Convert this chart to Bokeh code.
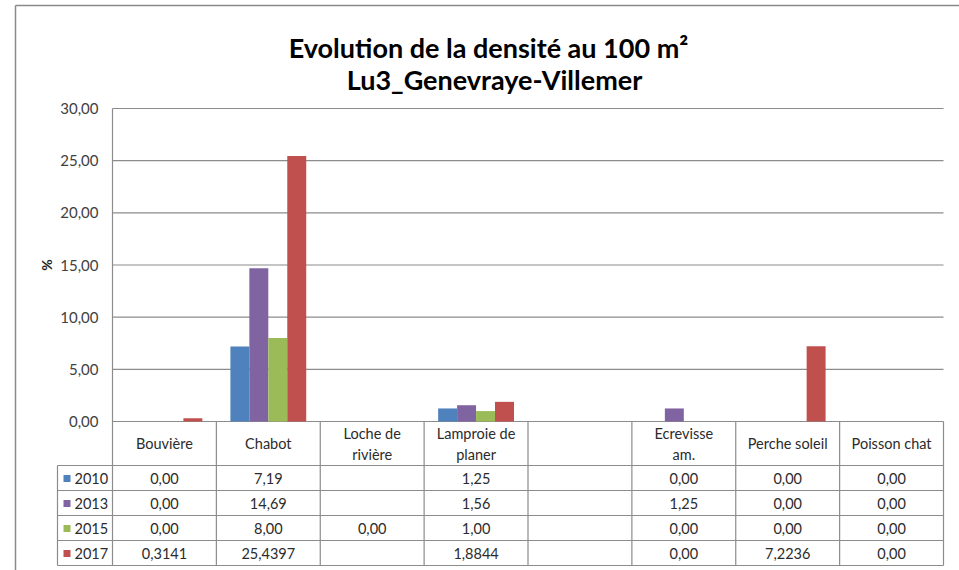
import numpy as np
from bokeh.plotting import figure
from bokeh.models import Range1d
from bokeh.core.properties import value
from bokeh.embed import file_html
from bokeh.resources import INLINE

# ---------------- data ----------------
categories = ["Bouvière", "Chabot", "Loche de rivière", "Lamproie de planer", "",
              "Ecrevisse am.", "Perche soleil", "Poisson chat"]
header_lines = [["Bouvière"], ["Chabot"], ["Loche de", "rivière"], ["Lamproie de", "planer"],
                [], ["Ecrevisse", "am."], ["Perche soleil"], ["Poisson chat"]]
years = ["2010", "2013", "2015", "2017"]
NA = None
d2010 = [0.00, 7.19, NA, 1.25, NA, 0.00, 0.00, 0.00]
d2013 = [0.00, 14.69, NA, 1.56, NA, 1.25, 0.00, 0.00]
d2015 = [0.00, 8.00, 0.00, 1.00, NA, 0.00, 0.00, 0.00]
d2017 = [0.3141, 25.4397, NA, 1.8844, NA, 0.00, 7.2236, 0.00]
series = [d2010, d2013, d2015, d2017]
colors = ["#4F81BD", "#8064A2", "#9BBB59", "#C0504D"]
y_ticks = [0, 5, 10, 15, 20, 25, 30]
y_tick_labels = ["0,00", "5,00", "10,00", "15,00", "20,00", "25,00", "30,00"]
title1 = "Evolution de la densité au 100 m²"
title2 = "Lu3_Genevraye-Villemer"
y_label = "%"

# ---------------- layout (reference pixel geometry) ----------------
W, H = 959, 570
OFF = 0
PL, PR, PT, PB = 112, 943, 108, 421
NC = len(categories)
YMAX = 30
UX = (PR - PL) / NC
UY = (PB - PT) / YMAX


def X(rx):
    return (rx - PL) / UX


def Y(ry):
    return (PB - ry) / UY


FONT = value("Lato")
GRID = "#8c8c8c"
TXT = "#2b2b2b"

p = figure(width=W, height=H, output_backend="svg", toolbar_location=None,
           x_range=Range1d(X(OFF), X(OFF + W)), y_range=Range1d(Y(OFF + H), Y(OFF)),
           min_border=0, outline_line_color=None, background_fill_color="white",
           border_fill_color="white")
p.xaxis.visible = False
p.yaxis.visible = False
p.grid.visible = False

# outer chart border (top + left)
p.segment(x0=[X(15)], y0=[Y(5)], x1=[X(OFF + W)], y1=[Y(5)], line_color="#8a8a8a", line_width=1.5)
p.segment(x0=[X(15)], y0=[Y(5)], x1=[X(15)], y1=[Y(OFF + H)], line_color="#8a8a8a", line_width=1.5)

# gridlines
p.segment(x0=[0] * len(y_ticks), y0=y_ticks, x1=[NC] * len(y_ticks), y1=y_ticks,
          line_color=GRID, line_width=1.2)

# bars
group_w = 0.73
bw = group_w / len(series)
for k, (vals, col) in enumerate(zip(series, colors)):
    xs = [i + 0.5 - group_w / 2 + bw * (k + 0.5) for i in range(NC)]
    tops = [np.nan if v is None else v for v in vals]
    p.vbar(x=xs, top=tops, bottom=0, width=bw, fill_color=col, line_color=None)

# y tick labels
p.text(x=[X(98)] * len(y_ticks), y=y_ticks, text=y_tick_labels, text_align="right",
       text_baseline="middle", text_font=FONT, text_font_size="15px", text_color="#404040")
# y axis title
p.text(x=[X(46)], y=[YMAX / 2], text=[y_label], angle=np.pi / 2, text_align="center",
       text_baseline="middle", text_font=FONT, text_font_size="14px", text_font_style="bold",
       text_color="#222222")

# titles
p.text(x=[X(488)], y=[Y(47)], text=[title1], text_align="center", text_baseline="alphabetic",
       text_font=FONT, text_font_size="27px", text_font_style="bold", text_color="#000000")
p.text(x=[X(494)], y=[Y(79)], text=[title2], text_align="center", text_baseline="alphabetic",
       text_font=FONT, text_font_size="27px", text_font_style="bold", text_color="#000000")

# ---------------- data table ----------------
HDR_B = 465
ROW_H = 25
row_tops = [HDR_B + ROW_H * r for r in range(len(years) + 1)]
TB = row_tops[-1]
LEG_L = 57

# horizontal lines
p.segment(x0=[X(LEG_L)] * len(row_tops), y0=[Y(r) for r in row_tops],
          x1=[NC] * len(row_tops), y1=[Y(r) for r in row_tops], line_color=GRID, line_width=1.2)
# vertical lines at category boundaries
p.segment(x0=list(range(1, NC + 1)), y0=[0] * NC, x1=list(range(1, NC + 1)), y1=[Y(TB)] * NC,
          line_color=GRID, line_width=1.2)
p.segment(x0=[0], y0=[YMAX], x1=[0], y1=[Y(TB)], line_color=GRID, line_width=1.2)
p.segment(x0=[X(LEG_L)], y0=[Y(HDR_B)], x1=[X(LEG_L)], y1=[Y(TB)], line_color=GRID, line_width=1.2)

# header labels
hx, hy, ht = [], [], []
for i, lines in enumerate(header_lines):
    if len(lines) == 1:
        hx.append(i + 0.5); hy.append(Y(443)); ht.append(lines[0])
    elif len(lines) == 2:
        hx += [i + 0.5, i + 0.5]; hy += [Y(433), Y(454)]; ht += lines
p.text(x=hx, y=hy, text=ht, text_align="center", text_baseline="middle", text_font=FONT,
       text_font_size="14.5px", text_color=TXT)


def fmt(v):
    if v is None:
        return ""
    s = f"{v:.2f}" if round(v, 2) == v else f"{v:.4f}"
    return s.replace(".", ",")


for r, (yr, vals, col) in enumerate(zip(years, series, colors)):
    yc = Y(row_tops[r] + ROW_H / 2 + 0.5)
    p.text(x=[i + 0.5 for i in range(NC)], y=[yc] * NC, text=[fmt(v) for v in vals],
           text_align="center", text_baseline="middle", text_font=FONT,
           text_font_size="14.5px", text_color=TXT)
    p.rect(x=[X(66.5)], y=[yc], width=7 / UX, height=7 / UY, fill_color=col, line_color=None)
    p.text(x=[X(74)], y=[yc], text=[yr], text_align="left", text_baseline="middle",
           text_font=FONT, text_font_size="14.5px", text_color=TXT)

open("out.html", "w").write(file_html(p, INLINE))
